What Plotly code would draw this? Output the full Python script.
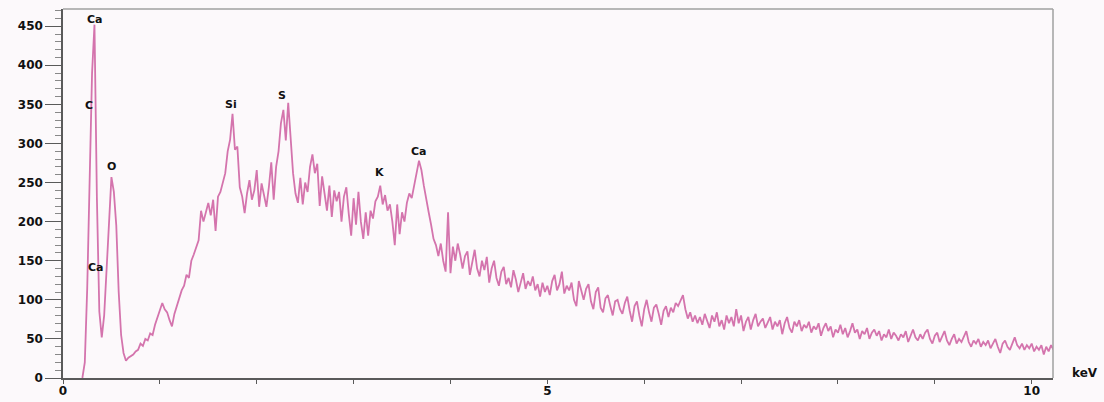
import numpy as np
import plotly.graph_objects as go

# EDS spectrum: counts per channel, first channel at 0.200 keV, 0.025 keV per channel
ENERGY_START_KEV = 0.200
CHANNEL_WIDTH_KEV = 0.025

counts = [
    # 0.200 - 0.675
    0, 20, 115, 245, 390, 452, 230, 85, 52, 80, 140, 205, 257, 238, 195, 110, 55, 32, 22, 26,
    # 0.700 - 1.175
    28, 30, 34, 36, 44, 41, 50, 48, 57, 55, 68, 78, 86, 96, 88, 84, 74, 66, 82, 92,
    # 1.200 - 1.675
    104, 112, 118, 132, 128, 150, 158, 166, 176, 214, 200, 212, 224, 208, 228, 188, 232, 238, 250, 262,
    # 1.700 - 2.175
    290, 305, 338, 292, 296, 244, 232, 211, 236, 253, 228, 240, 266, 219, 249, 236, 219, 244, 276, 228,
    # 2.200 - 2.675
    270, 290, 326, 343, 304, 352, 304, 262, 236, 224, 256, 222, 250, 238, 270, 286, 262, 274, 220, 258,
    # 2.700 - 3.175
    236, 214, 246, 206, 240, 226, 238, 200, 232, 244, 210, 182, 230, 196, 238, 200, 178, 212, 182, 214,
    # 3.200 - 3.675
    204, 226, 232, 246, 222, 234, 214, 222, 200, 170, 222, 184, 212, 200, 224, 236, 230, 248, 262, 278,
    # 3.700 - 4.175
    266, 246, 226, 212, 196, 178, 170, 156, 172, 150, 136, 212, 134, 168, 150, 172, 158, 140, 156, 162,
    # 4.200 - 4.675
    132, 150, 164, 140, 130, 150, 138, 155, 122, 140, 150, 128, 118, 136, 142, 120, 128, 116, 138, 126,
    # 4.700 - 5.175
    110, 122, 134, 114, 124, 118, 130, 112, 120, 104, 122, 110, 118, 106, 124, 132, 112, 120, 136, 108,
    # 5.200 - 5.675
    118, 112, 122, 100, 92, 124, 110, 100, 114, 120, 98, 88, 110, 116, 90, 84, 102, 106, 92, 80,
    # 5.700 - 6.175
    98, 100, 88, 82, 96, 104, 86, 72, 92, 98, 80, 66, 88, 100, 84, 72, 90, 94, 82, 68,
    # 6.200 - 6.675
    86, 92, 78, 90, 84, 96, 92, 100, 106, 88, 76, 84, 72, 80, 70, 78, 68, 82, 74, 64,
    # 6.700 - 7.175
    80, 72, 84, 66, 74, 62, 80, 70, 78, 66, 88, 70, 80, 60, 72, 78, 62, 74, 82, 66,
    # 7.200 - 7.675
    72, 76, 64, 70, 78, 62, 72, 66, 74, 56, 70, 78, 64, 58, 72, 66, 74, 60, 68, 64,
    # 7.700 - 8.175
    72, 58, 66, 62, 70, 54, 64, 70, 60, 66, 52, 62, 58, 68, 56, 64, 52, 60, 70, 58,
    # 8.200 - 8.675
    62, 50, 60, 56, 64, 50, 58, 62, 54, 60, 48, 56, 52, 62, 50, 58, 54, 48, 56, 52,
    # 8.700 - 9.175
    60, 46, 54, 62, 52, 48, 56, 50, 58, 62, 50, 44, 54, 58, 46, 52, 60, 48, 42, 50,
    # 9.200 - 9.675
    56, 44, 50, 46, 54, 60, 46, 40, 48, 44, 50, 40, 46, 42, 48, 38, 44, 50, 40, 32,
    # 9.700 - 10.175
    44, 48, 40, 36, 44, 52, 42, 38, 44, 36, 42, 38, 44, 34, 40, 36, 42, 30, 40, 34,
    # 10.200 - 10.225
    42, 36,
]

# Element line labels: name, energy (keV), label height (counts)
peak_names = ["Ca", "C", "O", "Ca", "Si", "S", "K", "Ca"]
peak_kev = [0.33, 0.27, 0.50, 0.34, 1.73, 2.26, 3.27, 3.68]
peak_label_y = [458, 349, 271, 141, 350, 361, 263, 290]

y_ticks = list(range(0, 451, 50))
x_ticks = [0, 5, 10]
x_tick_text = ["0", "5", "10"]

energy = ENERGY_START_KEV + CHANNEL_WIDTH_KEV * np.arange(len(counts))

LINE = "#d474ad"
BG = "#fcf9fb"
AXIS = "#5a5a5a"
FRAME = "#a0a0a0"
label_font = dict(family="DejaVu Sans", size=11, color="#111111", weight="bold")
tick_font = dict(family="DejaVu Sans", size=12, color="#111111", weight="bold")

fig = go.Figure()
fig.add_trace(go.Scatter(
    x=energy, y=counts, mode="lines",
    line=dict(color=LINE, width=1.8),
    hoverinfo="skip", showlegend=False,
))

for name, xk, yk in zip(peak_names, peak_kev, peak_label_y):
    fig.add_annotation(x=xk, y=yk, text=name, showarrow=False,
                       font=label_font, xanchor="center", yanchor="middle")

fig.add_annotation(x=1.032, y=0.0136, xref="paper", yref="paper", text="keV",
                   showarrow=False, font=tick_font, xanchor="center", yanchor="middle")

# light frame along the top and right edges of the plotting area
fig.add_shape(type="line", xref="paper", yref="paper", x0=0, y0=1, x1=1, y1=1,
              line=dict(color=FRAME, width=1.5))
fig.add_shape(type="line", xref="paper", yref="paper", x0=1, y0=0, x1=1, y1=1,
              line=dict(color=FRAME, width=1.5))

fig.update_layout(
    width=1104, height=402,
    margin=dict(l=63, r=51, t=9, b=24),
    paper_bgcolor=BG, plot_bgcolor=BG,
    xaxis=dict(
        range=[0, 10.22], tickmode="array", tickvals=x_ticks, ticktext=x_tick_text,
        ticks="outside", ticklen=4, tickcolor=AXIS, tickwidth=1,
        minor=dict(dtick=1, tick0=0, ticks="outside", ticklen=4, tickcolor=AXIS),
        showgrid=False, zeroline=False, showline=True, linecolor=AXIS, linewidth=1.5,
        tickfont=tick_font, automargin=False, ticklabelstandoff=-3,
    ),
    yaxis=dict(
        range=[0, 472], tickmode="array", tickvals=y_ticks,
        ticks="outside", ticklen=16, tickcolor=AXIS, tickwidth=1,
        minor=dict(dtick=10, tick0=0, ticks="outside", ticklen=6, tickcolor="#888888"),
        showgrid=False, zeroline=False, showline=True, linecolor=AXIS, linewidth=1.5,
        tickfont=tick_font, automargin=False,
    ),
)

fig.write_html("out.html")
